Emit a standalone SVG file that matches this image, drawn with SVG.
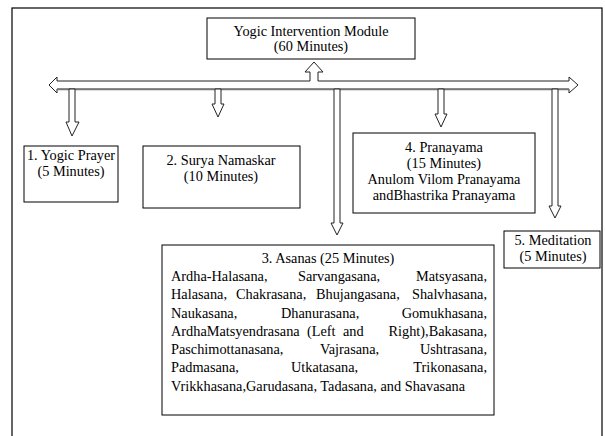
<svg xmlns="http://www.w3.org/2000/svg" width="605" height="436" viewBox="0 0 605 436" font-family="Liberation Serif, serif">
<style>
.box{fill:#fff;stroke:#000;stroke-width:1}
.arr{fill:#fff;stroke:#222;stroke-width:1;stroke-linejoin:miter}
.t{font-family:'Liberation Serif',serif;font-size:14.3px;fill:#000}
.c{text-anchor:middle}
.e{text-anchor:end}
</style>
<rect x="12" y="8" width="590" height="440" fill="#fff" stroke="#000" stroke-width="1.2"/>
<g id="connectors">
<polygon class="arr" points="49,85 57,77 57,81 310,81 310,72 305,72 314,62 323,72 318,72 318,81 569,81 569,77 578,85 569,93 569,89 57,89 57,93"/>
<line x1="57" y1="89.5" x2="569" y2="89.5" stroke="#777" stroke-width="1.5"/>
<polygon class="arr" points="69,89 75,89 75,122 79,122 72,136 66,122 69,122"/>
<polygon class="arr" points="215,89 221,89 221,104 224,104 218,117 212,104 215,104"/>
<polygon class="arr" points="334,89 340,89 340,223 343,223 337,235 331,223 334,223"/>
<polygon class="arr" points="438,89 444,89 444,114 447,114 441,127 435,114 438,114"/>
<polygon class="arr" points="552,89 558,89 558,206 561,206 555,218 549,206 552,206"/>
</g>
<g id="top" class="t">
<rect class="box" x="207" y="18" width="208" height="41"/>
<text class="c" x="311" y="36">Yogic Intervention Module</text>
<text class="c" x="311" y="51">(60 Minutes)</text>
</g>
<g id="prayer" class="t">
<rect class="box" x="24" y="146" width="94" height="56"/>
<text class="c" x="71" y="160">1. Yogic Prayer</text>
<text class="c" x="71" y="176">(5 Minutes)</text>
</g>
<g id="surya" class="t">
<rect class="box" x="143" y="146" width="157" height="62"/>
<text class="c" x="221" y="165">2. Surya Namaskar</text>
<text class="c" x="221" y="181">(10 Minutes)</text>
</g>
<g id="pranayama" class="t">
<rect class="box" x="353" y="133" width="182" height="80"/>
<text class="c" x="444" y="152">4. Pranayama</text>
<text class="c" x="444" y="168">(15 Minutes)</text>
<text class="c" x="444" y="184">Anulom Vilom Pranayama</text>
<text class="c" x="444" y="200">andBhastrika Pranayama</text>
</g>
<g id="meditation" class="t">
<rect class="box" x="504" y="231" width="96" height="37"/>
<text class="c" x="553" y="245">5. Meditation</text>
<text class="c" x="553" y="261">(5 Minutes)</text>
</g>
<g id="asanas" class="t">
<rect class="box" x="162" y="245" width="332" height="170"/>
<text class="c" x="328" y="263">3. Asanas (25 Minutes)</text>
<text x="171" y="281">Ardha-Halasana,</text>
<text x="298" y="281">Sarvangasana,</text>
<text class="e" x="487" y="281">Matsyasana,</text>
<text x="171" y="299">Halasana,</text>
<text x="236" y="299">Chakrasana,</text>
<text x="316" y="299">Bhujangasana,</text>
<text class="e" x="487" y="299">Shalvhasana,</text>
<text x="171" y="318">Naukasana,</text>
<text x="281" y="318">Dhanurasana,</text>
<text class="e" x="487" y="318">Gomukhasana,</text>
<text x="171" y="336">ArdhaMatsyendrasana</text>
<text x="307" y="336">(Left</text>
<text x="343" y="336">and</text>
<text class="e" x="487" y="336">Right),Bakasana,</text>
<text x="171" y="354">Paschimottanasana,</text>
<text x="320" y="354">Vajrasana,</text>
<text class="e" x="487" y="354">Ushtrasana,</text>
<text x="171" y="372">Padmasana,</text>
<text x="291" y="372">Utkatasana,</text>
<text class="e" x="487" y="372">Trikonasana,</text>
<text x="171" y="391">Vrikkhasana,Garudasana, Tadasana, and Shavasana</text>
</g>
</svg>
